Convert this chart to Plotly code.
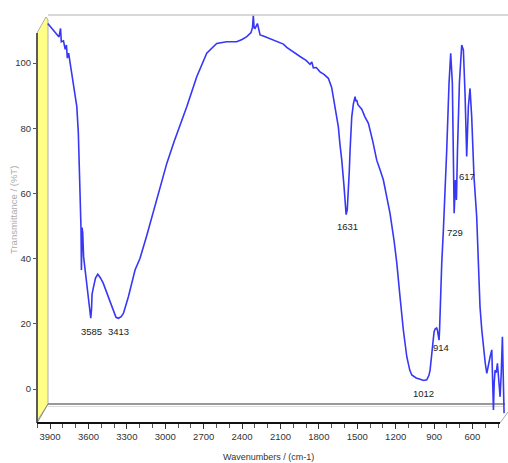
import plotly.graph_objects as go

# ---- data ----
wavenumber = [3918, 3895, 3874, 3850, 3830, 3818, 3812, 3795, 3782, 3772, 3765, 3755, 3744, 3718,
              3691, 3679, 3671, 3663, 3658, 3655, 3650, 3645, 3638, 3609, 3590, 3582, 3576, 3572,
              3562, 3545, 3527, 3505, 3484, 3445, 3405, 3385, 3366, 3345, 3327, 3288, 3236, 3197,
              3145, 3105, 3066, 2988, 2930, 2884, 2832, 2754, 2676, 2598, 2520, 2442, 2400, 2363,
              2330, 2318, 2312, 2306, 2298, 2280, 2270, 2259, 2234, 2181, 2120, 2077, 2051, 2000,
              1947, 1900, 1869, 1855, 1843, 1820, 1791, 1760, 1726, 1700, 1687, 1665, 1648, 1635,
              1621, 1603, 1594, 1587, 1578, 1570, 1562, 1556, 1543, 1530, 1517, 1510, 1504, 1495,
              1480, 1465, 1440, 1413, 1380, 1348, 1320, 1296, 1270, 1244, 1213, 1191, 1166, 1140,
              1113, 1090, 1074, 1040, 1009, 980, 957, 940, 931, 920, 910, 900, 892, 880, 874, 866,
              861, 857, 853, 840, 827, 814, 801, 783, 770, 757, 749, 743, 733, 725, 717, 702, 684,
              671, 658, 645, 632, 619, 606, 588, 567, 560, 554, 541, 527, 514, 500, 488, 475, 462,
              449, 442, 436, 430, 423, 414, 405, 395, 384, 375, 366, 360, 353]
transmittance = [112.1, 111.0, 110.1, 109.2, 108.0, 110.6, 106.5, 106.8, 104.2, 105.5, 101.5, 103.0, 100.0, 93.8,
                 86.6, 78.5, 68.2, 58.0, 49.0, 36.5, 49.5, 48.0, 40.6, 30.4, 24.0, 21.7, 24.5, 29.0,
                 31.0, 34.0, 35.2, 34.0, 32.4, 28.3, 23.7, 22.0, 21.7, 22.2, 23.2, 28.3, 36.5, 40.1,
                 47.0, 52.5, 58.0, 69.2, 76.0, 81.0, 86.6, 95.8, 103.0, 106.0, 106.5, 106.5, 107.2, 108.1,
                 109.3, 111.0, 114.5, 110.8, 110.6, 112.1, 109.8, 108.6, 108.3, 107.4, 106.3, 105.8, 104.8, 103.3,
                 102.0, 100.8, 99.6, 100.3, 98.5, 98.6, 97.3, 96.5, 95.3, 92.5, 89.7, 85.0, 80.5, 75.0,
                 70.2, 62.0, 57.0, 53.5, 55.0, 60.0, 67.0, 73.3, 83.5, 87.5, 89.7, 88.2, 88.7, 87.2,
                 86.3, 85.8, 83.5, 81.5, 76.2, 70.2, 67.0, 64.1, 59.0, 53.9, 45.7, 38.6, 28.3, 18.1,
                 9.9, 5.8, 4.3, 3.4, 3.0, 2.6, 2.8, 4.2, 5.8, 10.0, 15.0, 17.5, 18.4, 18.7, 18.1, 16.2,
                 15.0, 18.0, 23.2, 38.6, 48.8, 60.0, 73.3, 93.8, 103.0, 93.8, 73.3, 53.9, 64.1, 58.0, 73.3, 93.8, 105.5,
                 104.0, 90.7, 71.3, 86.6, 92.2, 83.5, 65.1, 52.9, 46.0, 38.6, 25.2, 18.1, 12.0, 7.9, 4.8, 8.0, 9.9,
                 12.0, 2.0, -6.4, 2.0, 5.8, 5.0, 7.9, 3.0, -2.4, 5.0, 16.0, 5.0, -7.4]

x_tick_values = [3900, 3600, 3300, 3000, 2700, 2400, 2100, 1800, 1500, 1200, 900, 600]
y_tick_values = [0, 20, 40, 60, 80, 100]
peak_labels = ["3585", "3413", "1631", "1012", "914", "729", "617"]

# ---- layout geometry (pixels) ----
W, H = 508, 463
L, R, T, B = 37, 0, 15, 40
PW, PH = W - L - R, H - T - B


def px(x):
    return (x - L) / PW


def py(y):
    return (H - B - y) / PH


NARROW = "Liberation Sans Narrow, Arial Narrow, Liberation Sans, Arial, sans-serif"

fig = go.Figure()
fig.add_trace(go.Scatter(x=wavenumber, y=transmittance, mode="lines",
                         line=dict(color="rgb(55,55,245)", width=1.6), hoverinfo="skip"))

shapes = []
# yellow side wall
shapes.append(dict(type="path", xref="paper", yref="paper", layer="below",
                   path="M {},{} L {},{} L {},{} L {},{} L {},{} Z".format(
                       px(37), py(421), px(37), py(33), px(46), py(17), px(48), py(20), px(48), py(404)),
                   fillcolor="#ffff88", line=dict(color="#999999", width=0.8)))
# back top edge
shapes.append(dict(type="line", xref="paper", yref="paper", layer="below",
                   x0=px(48), y0=py(15), x1=px(508), y1=py(15), line=dict(color="#d8d8d8", width=2)))
# back floor edge
shapes.append(dict(type="line", xref="paper", yref="paper", layer="below",
                   x0=px(48), y0=py(404), x1=px(505), y1=py(404), line=dict(color="#777777", width=1.5)))
shapes.append(dict(type="line", xref="paper", yref="paper", layer="below",
                   x0=px(48), y0=py(406.5), x1=px(504), y1=py(406.5), line=dict(color="#dddddd", width=1)))
# floor diagonal edges
shapes.append(dict(type="line", xref="paper", yref="paper", layer="below",
                   x0=px(37), y0=py(423), x1=px(48), y1=py(404), line=dict(color="#888888", width=1)))
shapes.append(dict(type="line", xref="paper", yref="paper", layer="below",
                   x0=px(500), y0=py(423), x1=px(508), y1=py(412), line=dict(color="#aaaaaa", width=1)))
# front left axis line
shapes.append(dict(type="line", xref="paper", yref="paper", layer="above",
                   x0=px(37), y0=py(33), x1=px(37), y1=py(423), line=dict(color="#333333", width=1.5)))
# front bottom axis line
shapes.append(dict(type="line", xref="paper", yref="paper", layer="above",
                   x0=px(37), y0=py(423), x1=px(500), y1=py(423), line=dict(color="#111111", width=2.2)))

label_pos = [(91, 331), (118, 331), (347, 227), (423, 393), (441, 347), (455, 232), (467, 176)]
annotations = []
for txt, (ax, ay) in zip(peak_labels, label_pos):
    annotations.append(dict(text=txt, x=px(ax), y=py(ay), xref="paper", yref="paper",
                            xanchor="center", yanchor="middle", showarrow=False,
                            font=dict(family=NARROW, size=9.5, color="#222222")))
annotations.append(dict(text="Transmittance / (%T)", x=px(13), y=py(210), xref="paper", yref="paper",
                        textangle=-90, xanchor="center", yanchor="middle", showarrow=False,
                        font=dict(family="Liberation Sans, Arial, sans-serif", size=9.5, color="#aaaaaa")))
annotations.append(dict(text="Wavenumbers / (cm-1)", x=px(268), y=py(457), xref="paper", yref="paper",
                        xanchor="center", yanchor="middle", showarrow=False,
                        font=dict(family=NARROW, size=9, color="#333333")))

fig.update_layout(
    width=W, height=H,
    margin=dict(l=L, r=R, t=T, b=B, pad=0),
    paper_bgcolor="white", plot_bgcolor="white",
    showlegend=False,
    shapes=shapes, annotations=annotations,
    xaxis=dict(range=[4002, 4002 - PW / 0.128], autorange=False,
               tickmode="array", tickvals=x_tick_values, ticktext=[str(v) for v in x_tick_values],
               ticks="outside", ticklen=5, tickcolor="#333333", tickwidth=1,
               minor=dict(tickmode="linear", tick0=400, dtick=100, ticks="outside", ticklen=4,
                          tickcolor="#555555", showgrid=False),
               showgrid=False, zeroline=False, showline=False,
               tickfont=dict(family=NARROW, size=9.5, color="#333333")),
    yaxis=dict(range=[(H - B - 389) / -3.26, (389 - T) / 3.26], autorange=False,
               tickmode="array", tickvals=y_tick_values, ticktext=[str(v) for v in y_tick_values],
               ticks="outside", ticklen=3, tickcolor="#555555",
               showgrid=False, zeroline=False, showline=False,
               tickfont=dict(family=NARROW, size=9.5, color="#333333")),
)

fig.write_html("out.html")
